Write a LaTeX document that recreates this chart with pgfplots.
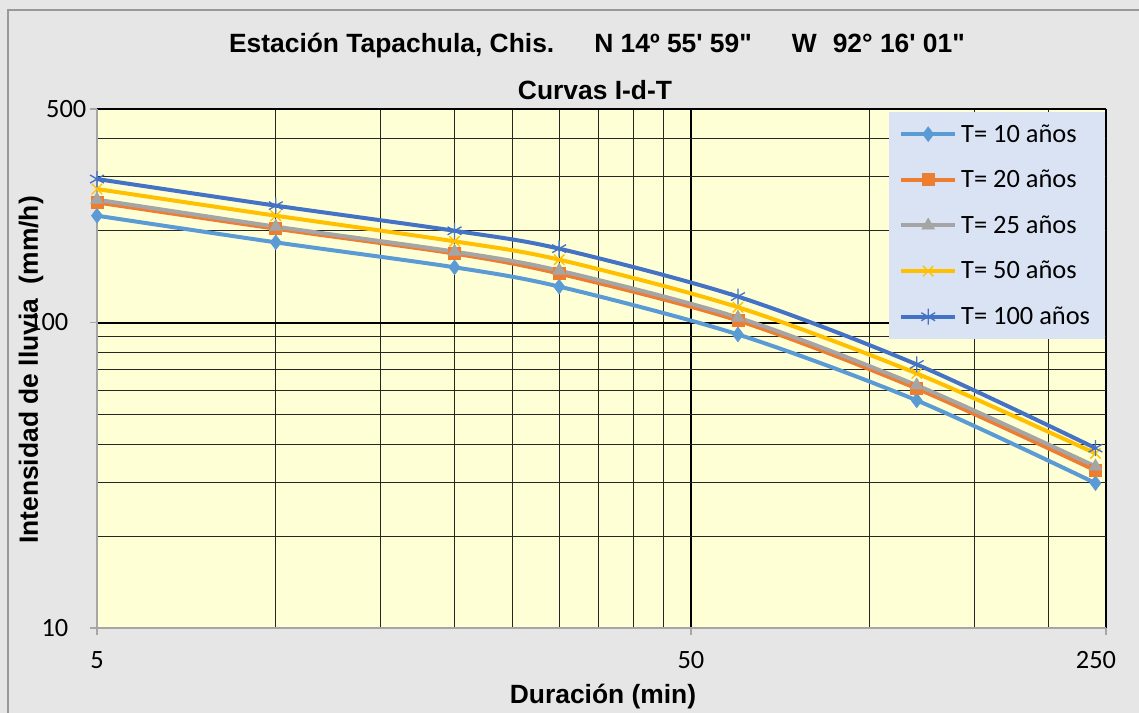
\documentclass[border=0pt]{standalone}
\usepackage{fontspec}
\setmainfont{Liberation Sans}[Ligatures=TeXOff]
\newfontfamily\calibri{Carlito}
\usepackage{pgfplots}
\pgfplotsset{compat=1.18}
\definecolor{cA}{HTML}{5B9BD5}
\definecolor{cB}{HTML}{ED7D31}
\definecolor{cC}{HTML}{A5A5A5}
\definecolor{cD}{HTML}{FFC000}
\definecolor{cE}{HTML}{4472C4}
\definecolor{plotbg}{HTML}{FFFFD5}
\definecolor{legbg}{HTML}{DAE3F3}
\definecolor{outerbg}{HTML}{E6E6E6}
\definecolor{axisgray}{HTML}{A6A6A6}
\definecolor{bordergray}{HTML}{999999}
\newcommand{\bigfont}{\fontsize{19.8}{23}\selectfont}
\begin{document}
\begin{tikzpicture}
\fill[outerbg] (0,0) rectangle (854.25pt,534.75pt);
\useasboundingbox (0,0) rectangle (854.25pt,534.75pt);
\draw[bordergray, line width=1pt] (6pt,0) -- (6pt,527.25pt) -- (854.25pt,527.25pt);
\begin{axis}[
  at={(72.75pt,63.75pt)}, anchor=south west,
  scale only axis, width=756.75pt, height=389.25pt,
  xmode=log, ymode=log,
  xmin=5, xmax=250, ymin=10, ymax=500,
  axis background/.style={fill=plotbg},
  xtick={5,50,250}, xticklabels={5,50,250\kern15pt},
  ytick={10,100,500}, yticklabels={10,100,500\kern-13.5pt},
  minor xtick={10,15,20,25,30,35,40,45,100,150,200},
  minor ytick={20,30,40,50,60,70,80,90,200,300,400},
  grid=both,
  major grid style={black, line width=1.5pt},
  minor grid style={black!85, line width=0.75pt},
  axis x line*=bottom, axis y line*=left,
  axis line style={draw=axisgray, line width=1.5pt},
  tick align=outside, major tick length=5pt, minor tick length=0pt,
  tick style={axisgray, line width=1pt},
  /pgf/number format/assume math mode=true,
  ticklabel style={font=\calibri\bigfont},
  xticklabel style={yshift=-9pt},
  yticklabel style={xshift=-13pt},
  legend style={at={(0.999,0.994)}, anchor=north east, fill=legbg, draw=none,
    font=\calibri\bigfont, inner xsep=8pt, inner ysep=6pt, row sep=13.5pt,
    nodes={inner sep=3pt}, cells={anchor=west}},
  legend image code/.code={\draw[#1, mark repeat=2, mark phase=2] plot coordinates {(0pt,0pt) (20.25pt,0pt) (40.5pt,0pt)};},
]
\addplot[cA, line width=3pt, smooth, mark=diamond*, mark size=5.5pt, mark options={solid, line width=0.5pt, fill=cA}]
 coordinates {(5,223.7) (10,183) (20,151.6) (30,131.1) (60,91.4) (120,55.6) (240,29.8)};
\addlegendentry{T= 10 años}
\addplot[cB, line width=3pt, smooth, mark=square*, mark size=4.5pt, mark options={solid, line width=0.5pt, fill=cB}]
 coordinates {(5,247.2) (10,202.8) (20,168.1) (30,144.6) (60,101.5) (120,60.8) (240,32.8)};
\addlegendentry{T= 20 años}
\addplot[cC, line width=3pt, smooth, mark=triangle*, mark size=5.5pt, mark options={solid, line width=0.5pt, fill=cC}]
 coordinates {(5,252.4) (10,206) (20,170.6) (30,147.9) (60,103.8) (120,62.3) (240,33.8)};
\addlegendentry{T= 25 años}
\addplot[cD, line width=3pt, smooth, mark=x, mark size=5.5pt, mark options={solid, line width=1pt}]
 coordinates {(5,273.5) (10,223.7) (20,184.4) (30,160.6) (60,112.2) (120,68.1) (240,37.3)};
\addlegendentry{T= 50 años}
\addplot[cE, line width=3pt, smooth, mark=asterisk, mark size=6pt, mark options={solid, line width=1pt}]
 coordinates {(5,294.9) (10,241.3) (20,199.7) (30,174.5) (60,121.6) (120,72.9) (240,38.8)};
\addlegendentry{T= 100 años}
\end{axis}
\node[font=\bfseries\bigfont] at (447.75pt,500.25pt) {Estación Tapachula, Chis.\hspace{30pt}N 14º 55' 59"\hspace{30pt}W\hspace{12pt}92° 16' 01"};
\node[font=\bfseries\bigfont] at (446.25pt,467.25pt) {Curvas I-d-T};
\node[font=\bfseries\bigfont] at (452.25pt,12pt) {Duración (min)};
\node[font=\bfseries\bigfont, rotate=90] at (23.25pt,257.25pt) {Intensidad de lluvia\ \ (mm/h)};
\end{tikzpicture}
\end{document}
